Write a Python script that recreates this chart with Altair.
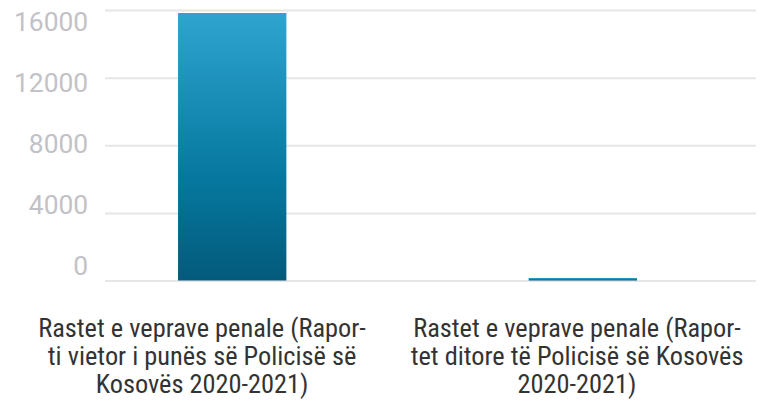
import altair as alt
import pandas as pd

categories = [
    "Rastet e veprave penale (Rapor-\nti vietor i punës së Policisë së\nKosovës 2020-2021)",
    "Rastet e veprave penale (Rapor-\ntet ditore të Policisë së Kosovës\n2020-2021)",
]
values = [15820, 150]
y_ticks = [0, 4000, 8000, 12000, 16000]

df = pd.DataFrame({"cat": categories, "val": values})

gradient = alt.Gradient(
    gradient="linear",
    stops=[
        alt.GradientStop(color="#035a7b", offset=0),
        alt.GradientStop(color="#06789f", offset=0.38),
        alt.GradientStop(color="#2ea4cf", offset=1),
    ],
    x1=1, x2=1, y1=1, y2=0,
)

bars = alt.Chart(df).mark_bar(color=gradient).encode(
    x=alt.X("cat:N", sort=categories, axis=None,
            scale=alt.Scale(type="band", paddingInner=0.691, paddingOuter=0.2746, align=0.382)),
    y=alt.Y("val:Q", scale=alt.Scale(domain=[0, 16000], nice=False),
            axis=alt.Axis(values=y_ticks, grid=True, labels=False, ticks=False, domain=False,
                          title=None, gridColor="#e6e6e8", gridWidth=2)),
)

label_df = pd.DataFrame({"cat": categories, "val": [0, 0]})
labels = alt.Chart(label_df).mark_point(opacity=0).encode(
    x=alt.X("cat:N", sort=categories,
            scale=alt.Scale(type="point", padding=0.3687, align=0.351),
            axis=alt.Axis(orient="bottom", title=None, domain=False, ticks=False, labelAngle=0,
                          labelExpr="split(datum.label, '\\n')", labelFont="Roboto Condensed, Liberation Sans Narrow, Roboto",
                          labelFontSize=26.5, labelLineHeight=28, labelColor="#333333",
                          labelPadding=35, labelBaseline="top", labelLimit=0)),
    y=alt.Y("val:Q", scale=alt.Scale(domain=[-914, 16849], nice=False, zero=False),
            axis=alt.Axis(orient="left", values=y_ticks, grid=False, ticks=False, domain=False,
                          format="d", title=None, labelFont="Roboto", labelFontSize=26.5, labelColor="#c2c2c6",
                          labelPadding=17, labelBaseline="middle")),
)

chart = alt.layer(bars, labels).resolve_scale(x="independent", y="independent").properties(
    width=655, height=272,
    autosize=alt.AutoSizeParams(type="none"),
    padding={"left": 97, "top": 1, "right": 0, "bottom": 130},
).configure_view(stroke=None)

chart.save("out.html", embed_options={"renderer": "svg", "actions": False})
